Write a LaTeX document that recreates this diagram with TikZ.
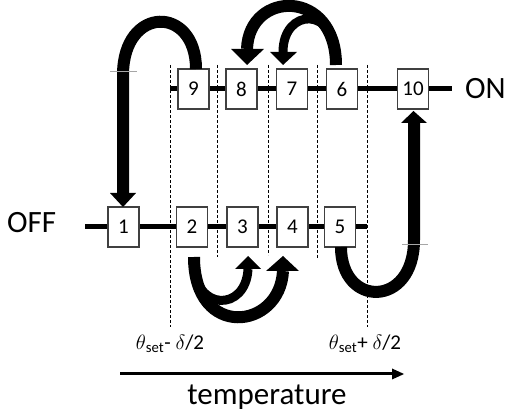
\documentclass[tikz,border=0pt]{standalone}
\usepackage{fontspec}
\setmainfont{Carlito}
\begin{document}
\begin{tikzpicture}[x=1pt,y=-1pt,
  state/.style={draw=black!75,line width=1.2pt,fill=white,minimum width=31pt,minimum height=40pt,inner sep=0pt,font=\fontsize{21}{21}\selectfont},
  rail/.style={line width=5pt},
  guide/.style={line width=0.8pt,dash pattern=on 3pt off 2pt},
  bigarrow/.style={line width=12pt},
  smallarrow/.style={line width=9pt},
  bigtext/.style={inner sep=0pt,font=\fontsize{31}{31}\selectfont},
  lbl/.style={inner sep=0pt,font=\fontsize{21}{21}\selectfont},
  artifact/.style={draw=black!35,line width=0.8pt}]
\useasboundingbox (0,0) rectangle (507,417);
% rails
\draw[rail] (170,89) -- (452,89);
\draw[rail] (85,227) -- (367,227);
% guides
\draw[guide] (170,65) -- (170,327);
\draw[guide] (217,65) -- (217,257);
\draw[guide] (268,65) -- (268,255);
\draw[guide] (317,65) -- (317,258);
\draw[guide] (367,65) -- (367,327);
% states
\node[state] (b1) at (123.5,227) {1};
\node[state] (b2) at (192,227) {2};
\node[state] (b3) at (242.5,227) {3};
\node[state] (b4) at (292.5,227) {4};
\node[state] (b5) at (340,227) {5};
\node[state] (b9) at (193.5,89) {9};
\node[state] (b8) at (241.5,89) {8};
\node[state] (b7) at (292,89) {7};
\node[state] (b6) at (342,89) {6};
\node[state] (b10) at (413,89) {10};
% labels
\node[bigtext,anchor=base west] (off) at (7,233) {OFF};
\node[bigtext,anchor=base west] (on) at (465,99) {ON};
\node[bigtext,anchor=base] (temp) at (267,405) {temperature};
\node[lbl] (lo) at (170,344) {$\theta$\textsubscript{set}- $\delta$/2};
\node[lbl] (hi) at (365,344) {$\theta$\textsubscript{set}+ $\delta$/2};
% 9 -> 1
\coordinate (s91) at (196,69);
\coordinate (e91) at (123,193);
\draw[bigarrow] (s91) .. controls (196,5) and (123,5) .. (123,75) -- (e91);
\fill (110,193) -- (136,193) -- (123,207) -- cycle;
% 6 -> 8
\coordinate (s68) at (336,65);
\coordinate (e68) at (247,49);
\draw[bigarrow] (s68) .. controls (336,-12) and (249,-10) .. (e68);
\fill (231,49) -- (264,49) -- (247,65) -- cycle;
% 6 -> 7
\coordinate (s67) at (336,60);
\coordinate (e67) at (283,52);
\draw[smallarrow] (s67) .. controls (336,5) and (283,8) .. (e67);
\fill (270,52) -- (297,52) -- (283,65) -- cycle;
% 2 -> 4
\coordinate (s24) at (194,257);
\coordinate (e24) at (283,271);
\draw[bigarrow] (s24) .. controls (194,340) and (280,330) .. (e24);
\fill (266,271) -- (299,271) -- (283,256) -- cycle;
% 2 -> 3
\coordinate (s23) at (194,262);
\coordinate (e23) at (248,269);
\draw[smallarrow] (s23) .. controls (194,312) and (246,312) .. (e23);
\fill (235,269) -- (261,269) -- (248,256) -- cycle;
% 5 -> 10
\coordinate (s510) at (341,247);
\coordinate (e510) at (414,123);
\draw[bigarrow] (s510) .. controls (341,308) and (414,308) .. (414,240) -- (e510);
\fill (401,123) -- (427,123) -- (413.5,111) -- cycle;
% temperature axis
\coordinate (t0) at (120,374);
\coordinate (t1) at (393,374);
\draw[line width=3pt] (t0) -- (t1);
\fill (392,368.5) -- (392,379.5) -- (404,374) -- cycle;
% artifacts
\draw[artifact] (110,71) -- (137,71);
\draw[artifact] (402,244) -- (428,244);
\end{tikzpicture}
\end{document}
